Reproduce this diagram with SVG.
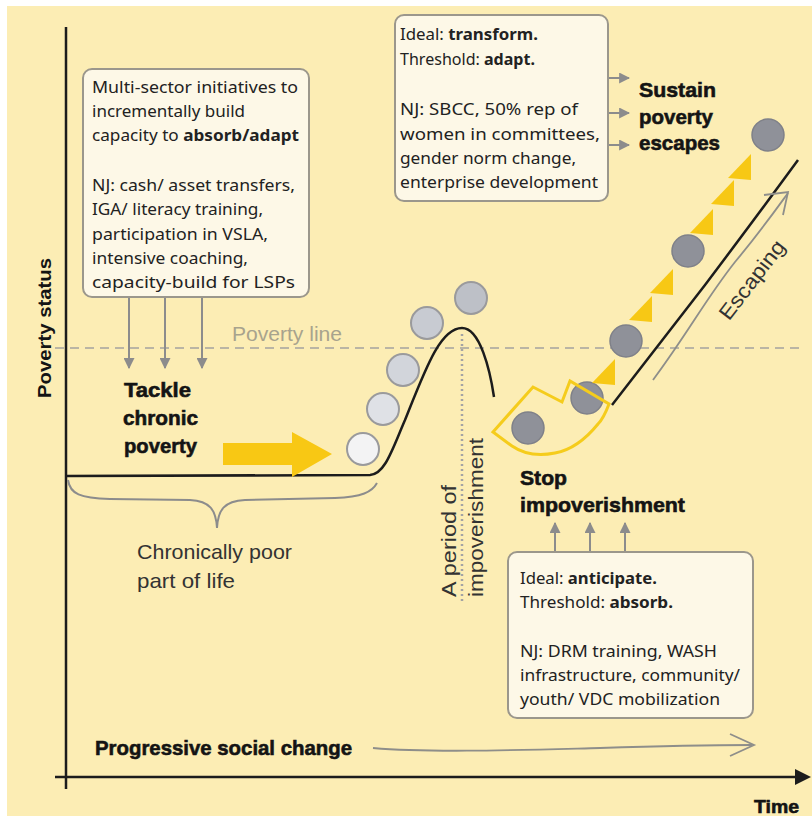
<svg xmlns="http://www.w3.org/2000/svg" width="812" height="816" viewBox="0 0 812 816">
  <defs>
    <style>
      .bg{fill:#fcedb4}
      .box{fill:#fdf8e7;stroke:#9b978c;stroke-width:2}
      .bt{font-family:"Noto Sans","Open Sans",sans-serif;font-size:16px;fill:#222}
      .b{font-weight:bold}
      .hd{font-family:"Liberation Sans",Arial,sans-serif;font-weight:bold;font-size:21px;fill:#141414;stroke:#141414;stroke-width:0.6}
      .ax-lbl{stroke:none}
      .lb{font-family:"Liberation Sans",Arial,sans-serif;font-size:21px;fill:#333}
      .ax{fill:none;stroke:#1c1c1c;stroke-width:2.5}
      .gl{fill:none;stroke:#8c8c8c;stroke-width:2}
      .thin{fill:none;stroke:#8e8e8a;stroke-width:1.8}
      .crv{fill:none;stroke:#1c1c1c;stroke-width:2.5}
      .lc{stroke:#9a9a9c;stroke-width:2}
      .dc{fill:#8f9199;stroke:#7f8189;stroke-width:1.5}
      .tri{fill:#f7c815}
    </style>
    <marker id="ah" viewBox="0 0 10 10" refX="9" refY="5" markerWidth="11" markerHeight="11" markerUnits="userSpaceOnUse" orient="auto">
      <path d="M0,0 L10,5 L0,10 z" fill="#8c8c8c"/>
    </marker>
    <path id="tri" d="M-13,10 L10,-14 L10,12 Z"/>
  </defs>

  <!-- page and panel -->
  <rect x="0" y="0" width="812" height="816" fill="#ffffff"/>
  <rect class="bg" x="7" y="6" width="805" height="810"/>

  <!-- poverty line -->
  <line x1="55" y1="348" x2="800" y2="348" stroke="#bab5a4" stroke-width="2" stroke-dasharray="9,6"/>
  <text class="lb" x="232" y="341" style="fill:#a8a38d" textLength="110" lengthAdjust="spacingAndGlyphs">Poverty line</text>

  <!-- axes -->
  <g id="axes">
    <line class="ax" x1="66" y1="27" x2="66" y2="789"/>
    <line class="ax" x1="55" y1="777" x2="797" y2="777"/>
    <path d="M795,769 L811,777 L795,785 Z" fill="#1c1c1c"/>
    <text class="hd" x="754" y="813" style="font-size:19px" textLength="45" lengthAdjust="spacingAndGlyphs">Time</text>
    <text class="hd ax-lbl" transform="translate(51,328) rotate(-90)" text-anchor="middle" style="font-size:19px" textLength="140" lengthAdjust="spacingAndGlyphs">Poverty status</text>
  </g>

  <!-- trajectories -->
  <g id="trajectory">
    <path class="crv" d="M66,476 L370,475 C385,474 392,450 405,420 C425,370 440,328 462,328 C480,328 490,370 494,397"/>
    <line x1="462" y1="334" x2="462" y2="602" stroke="#a3a3a3" stroke-width="2.5" stroke-dasharray="2,3"/>
    <path class="crv" d="M612,405 L705,285 Q760,212 798,160"/>
  </g>

  <!-- impoverishment dots -->
  <g id="dots-down" class="lc">
    <circle cx="363" cy="449" r="16" fill="#f3f3f4"/>
    <circle cx="383" cy="409" r="16" fill="#dfe1e6"/>
    <circle cx="403" cy="370" r="16" fill="#d2d5db"/>
    <circle cx="427" cy="323" r="16" fill="#c8cbd2"/>
    <circle cx="471" cy="298" r="16" fill="#bdc0c7"/>
  </g>

  <!-- escape dots and arrowheads -->
  <g id="dots-up">
    <circle class="dc" cx="528" cy="428" r="16"/>
    <circle class="dc" cx="587" cy="398" r="16"/>
    <circle class="dc" cx="626" cy="341" r="16"/>
    <circle class="dc" cx="688" cy="251" r="16"/>
    <circle class="dc" cx="768" cy="135" r="16"/>
    <use href="#tri" class="tri" x="605" y="373"/>
    <use href="#tri" class="tri" x="642" y="310"/>
    <use href="#tri" class="tri" x="663" y="283"/>
    <use href="#tri" class="tri" x="703" y="223"/>
    <use href="#tri" class="tri" x="724" y="194"/>
    <use href="#tri" class="tri" x="741" y="168"/>
  </g>

  <!-- stop-impoverishment outline -->
  <path id="stop-zone" d="M493,432 L533,387 L562,402 L570,381 L609,404 C606,412 602,420 598,424 C585,440 572,450 555,453 C540,456 525,455 512,446 Z" fill="none" stroke="#f5cc1c" stroke-width="3"/>

  <!-- big yellow arrow -->
  <path id="push-arrow" d="M223,443 L292,443 L292,432 L332,454 L292,477 L292,465 L223,465 Z" fill="#f8c814"/>

  <!-- connectors -->
  <g id="connectors">
    <line class="gl" x1="129" y1="297" x2="129" y2="368" marker-end="url(#ah)"/>
    <line class="gl" x1="165" y1="297" x2="165" y2="368" marker-end="url(#ah)"/>
    <line class="gl" x1="202" y1="297" x2="202" y2="368" marker-end="url(#ah)"/>
    <line class="gl" x1="609" y1="78" x2="629" y2="78" marker-end="url(#ah)"/>
    <line class="gl" x1="609" y1="113" x2="629" y2="113" marker-end="url(#ah)"/>
    <line class="gl" x1="609" y1="145" x2="629" y2="145" marker-end="url(#ah)"/>
    <line class="gl" x1="555" y1="552" x2="555" y2="523" marker-end="url(#ah)"/>
    <line class="gl" x1="590" y1="552" x2="590" y2="523" marker-end="url(#ah)"/>
    <line class="gl" x1="625" y1="552" x2="625" y2="523" marker-end="url(#ah)"/>
    <!-- brace -->
    <path class="gl" d="M68,480 C70,494 80,498 110,499 L190,500 C210,501 216,510 217,528 C218,510 224,501 245,500 L335,498 C362,497 372,492 377,483"/>
    <!-- escaping arrow -->
    <path class="thin" d="M653,380 C690,330 705,300 735,262 C760,232 772,215 788,193"/>
    <path class="thin" d="M764,195 L788,192 L783,215"/>
    <!-- social change arrow -->
    <path class="thin" d="M373,748 C430,753 520,750 600,748 C660,746 710,745 752,745"/>
    <path class="thin" d="M730,734 L754,745 L730,756"/>
  </g>

  <!-- labels -->
  <g id="labels">
    <text class="hd" x="124" y="397" textLength="67" lengthAdjust="spacingAndGlyphs">Tackle</text>
    <text class="hd" x="123" y="425" textLength="75" lengthAdjust="spacingAndGlyphs">chronic</text>
    <text class="hd" x="124" y="453" textLength="73" lengthAdjust="spacingAndGlyphs">poverty</text>

    <text class="lb" x="137" y="559" textLength="155" lengthAdjust="spacingAndGlyphs">Chronically poor</text>
    <text class="lb" x="137" y="588" textLength="98" lengthAdjust="spacingAndGlyphs">part of life</text>

    <text class="hd" x="639" y="97" textLength="77" lengthAdjust="spacingAndGlyphs">Sustain</text>
    <text class="hd" x="639" y="124" textLength="74" lengthAdjust="spacingAndGlyphs">poverty</text>
    <text class="hd" x="639" y="150" textLength="81" lengthAdjust="spacingAndGlyphs">escapes</text>

    <text class="hd" x="520" y="485" textLength="47" lengthAdjust="spacingAndGlyphs">Stop</text>
    <text class="hd" x="520" y="512" textLength="165" lengthAdjust="spacingAndGlyphs">impoverishment</text>

    <text class="lb" transform="translate(456,597) rotate(-90)" textLength="112" lengthAdjust="spacingAndGlyphs">A period of</text>
    <text class="lb" transform="translate(483,597) rotate(-90)" textLength="159" lengthAdjust="spacingAndGlyphs">impoverishment</text>

    <text class="lb" transform="translate(752,280) rotate(-52.5)" text-anchor="middle" y="7" textLength="94" lengthAdjust="spacingAndGlyphs">Escaping</text>

    <text class="hd" x="95" y="755" textLength="257" lengthAdjust="spacingAndGlyphs">Progressive social change</text>
  </g>

  <!-- left box -->
  <g id="box-chronic">
    <rect class="box" x="83" y="69" width="226" height="228" rx="9"/>
    <text class="bt" x="92" y="93" textLength="206" lengthAdjust="spacingAndGlyphs">Multi-sector initiatives to</text>
    <text class="bt" x="92" y="117" textLength="153" lengthAdjust="spacingAndGlyphs">incrementally build</text>
    <text class="bt" x="92" y="141" textLength="207" lengthAdjust="spacingAndGlyphs">capacity to <tspan class="b">absorb/adapt</tspan></text>
    <text class="bt" x="92" y="191" textLength="203" lengthAdjust="spacingAndGlyphs">NJ: cash/ asset transfers,</text>
    <text class="bt" x="92" y="215" textLength="171" lengthAdjust="spacingAndGlyphs">IGA/ literacy training,</text>
    <text class="bt" x="92" y="240" textLength="176" lengthAdjust="spacingAndGlyphs">participation in VSLA,</text>
    <text class="bt" x="92" y="264" textLength="156" lengthAdjust="spacingAndGlyphs">intensive coaching,</text>
    <text class="bt" x="92" y="288" textLength="203" lengthAdjust="spacingAndGlyphs">capacity-build for LSPs</text>
  </g>

  <!-- top box -->
  <g id="box-sustain">
    <rect class="box" x="395" y="15" width="213" height="186" rx="9"/>
    <text class="bt" x="400" y="40" textLength="138" lengthAdjust="spacingAndGlyphs">Ideal: <tspan class="b">transform.</tspan></text>
    <text class="bt" x="400" y="65" textLength="135" lengthAdjust="spacingAndGlyphs">Threshold: <tspan class="b">adapt.</tspan></text>
    <text class="bt" x="400" y="115" textLength="178" lengthAdjust="spacingAndGlyphs">NJ: SBCC, 50% rep of</text>
    <text class="bt" x="400" y="140" textLength="200" lengthAdjust="spacingAndGlyphs">women in committees,</text>
    <text class="bt" x="400" y="164" textLength="176" lengthAdjust="spacingAndGlyphs">gender norm change,</text>
    <text class="bt" x="400" y="188" textLength="198" lengthAdjust="spacingAndGlyphs">enterprise development</text>
  </g>

  <!-- bottom box -->
  <g id="box-stop">
    <rect class="box" x="508" y="552" width="245" height="166" rx="9"/>
    <text class="bt" x="520" y="584" textLength="137" lengthAdjust="spacingAndGlyphs">Ideal: <tspan class="b">anticipate.</tspan></text>
    <text class="bt" x="520" y="608" textLength="153" lengthAdjust="spacingAndGlyphs">Threshold: <tspan class="b">absorb.</tspan></text>
    <text class="bt" x="520" y="657" textLength="197" lengthAdjust="spacingAndGlyphs">NJ: DRM training, WASH</text>
    <text class="bt" x="520" y="681" textLength="220" lengthAdjust="spacingAndGlyphs">infrastructure, community/</text>
    <text class="bt" x="520" y="705" textLength="200" lengthAdjust="spacingAndGlyphs">youth/ VDC mobilization</text>
  </g>
</svg>
